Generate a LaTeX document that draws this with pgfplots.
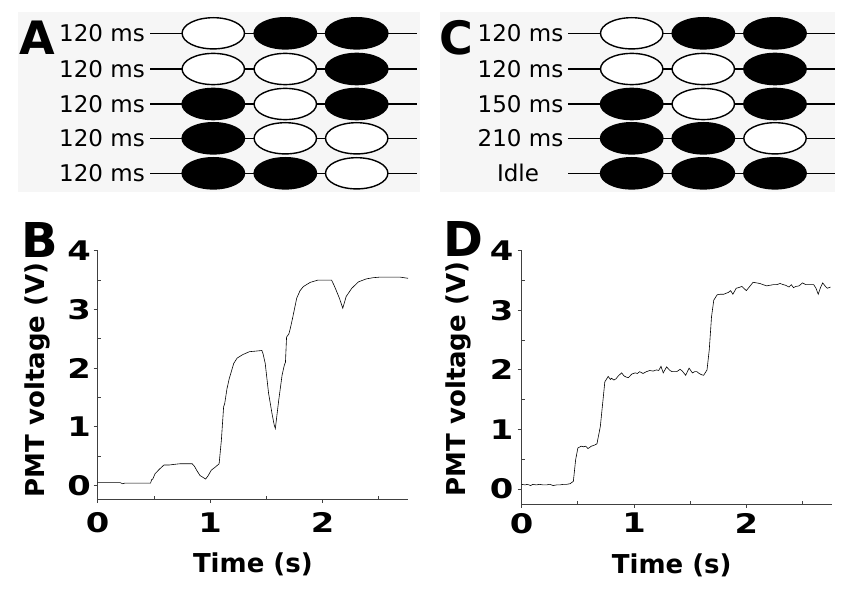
\documentclass[border=0pt]{standalone}
\usepackage{fontspec}
\setmainfont{DejaVu Sans}
\usepackage{pgfplots}
\pgfplotsset{compat=1.18}
\definecolor{panelbg}{RGB}{246,246,246}

\tikzset{
  rowlab/.style={anchor=base east, inner sep=0pt, font=\fontsize{23}{23}\selectfont},
  panlab/.style={anchor=base west, inner sep=0pt, font=\bfseries\fontsize{46}{46}\selectfont}
}
\pgfplotsset{
  schem/.style={scale only axis, anchor=south west, y dir=reverse,
    ymin=12, ymax=192, height=180pt,
    axis line style={draw=none}, xtick=\empty, ytick=\empty,
    axis background/.style={fill=panelbg}, clip=false},
  wmark/.style={only marks, mark=*, mark size=15.6pt,
    mark options={xscale=2.0, draw=black, fill=white, line width=1.4pt}},
  bmark/.style={only marks, mark=*, mark size=15.6pt,
    mark options={xscale=2.0, draw=black, fill=black, line width=1.4pt}},
  trace/.style={scale only axis, anchor=south west,
    xmin=0, xmax=2.76, ymax=4,
    axis lines=left, axis line style={black!75, line width=0.8pt, -},
    xtick={0,1,2}, ytick={0,1,2,3,4},
    minor xtick={0.5,1.5,2.5}, minor ytick={0.5,1.5,2.5,3.5},
    tick align=outside, major tick length=4pt, minor tick length=3pt,
    tick style={black!75, line width=0.8pt},
    minor x tick style={yshift=3pt}, minor y tick style={xshift=3pt},
    /pgf/number format/assume math mode=true,
    tick label style={font=\bfseries\fontsize{27}{27}\selectfont, inner sep=0pt, xscale=1.25},
    xlabel={Time (s)}, ylabel={PMT voltage (V)},
    label style={font=\bfseries\fontsize{26}{26}\selectfont, inner sep=0pt},
    clip=false}
}

\begin{document}
\begin{tikzpicture}
\path[use as bounding box] (0pt,0pt) rectangle (860pt,600pt);

% ---------- Panel A ----------
\begin{axis}[schem, at={(18pt,408pt)}, width=402pt, xmin=18, xmax=420]
\pgfplotsinvokeforeach{33.3,69,104,138.3,173.3}{
  \addplot[black, line width=1.5pt, forget plot] coordinates {(150,#1) (417,#1)};}
\addplot[wmark] coordinates {(213.3,33.3) (213.3,69) (285.3,69) (285.3,104) (285.3,138.3) (356.7,138.3) (356.7,173.3)};
\addplot[bmark] coordinates {(285.3,33.3) (356.7,33.3) (356.7,69) (213.3,104) (356.7,104) (213.3,138.3) (213.3,173.3) (285.3,173.3)};
\node[rowlab] at (axis cs:145,41.7) {120 ms};
\node[rowlab] at (axis cs:145,77.4) {120 ms};
\node[rowlab] at (axis cs:145,112.4) {120 ms};
\node[rowlab] at (axis cs:145,146.7) {120 ms};
\node[rowlab] at (axis cs:145,181.7) {120 ms};
\node[panlab] at (axis cs:19.5,55) {A};
\end{axis}

% ---------- Panel C ----------
\begin{axis}[schem, at={(440pt,408pt)}, width=395pt, xmin=440, xmax=835]
\pgfplotsinvokeforeach{33.3,69,104,138.3,173.3}{
  \addplot[black, line width=1.5pt, forget plot] coordinates {(568.3,#1) (835,#1)};}
\addplot[wmark] coordinates {(631.7,33.3) (631.7,69) (703.3,69) (703.3,104) (775,138.3)};
\addplot[bmark] coordinates {(703.3,33.3) (775,33.3) (775,69) (631.7,104) (775,104) (631.7,138.3) (703.3,138.3) (631.7,173.3) (703.3,173.3) (775,173.3)};
\node[rowlab] at (axis cs:563.5,41.7) {120 ms};
\node[rowlab] at (axis cs:563.5,77.4) {120 ms};
\node[rowlab] at (axis cs:563.5,112.4) {150 ms};
\node[rowlab] at (axis cs:563.5,146.7) {210 ms};
\node[rowlab, anchor=base] at (axis cs:518,181.7) {Idle};
\node[panlab] at (axis cs:439.5,55) {C};
\end{axis}

% ---------- Panel B ----------
\begin{axis}[trace, at={(97.7pt,101pt)}, width=310.3pt, height=248.3pt, ymin=-0.23,
  xticklabel shift=9.2pt, yticklabel shift=2.7pt,
  xlabel style={at={(axis description cs:0.5,-0.298)}, anchor=base},
  ylabel style={at={(axis description cs:-0.194,0.479)}, anchor=center}]
\addplot[black, line width=0.6pt] coordinates {
(0,0.05) (0.10,0.05) (0.20,0.05) (0.22,0.03) (0.24,0.04) (0.35,0.04) (0.47,0.04) (0.48,0.10) (0.49,0.11) (0.51,0.20) (0.55,0.28) (0.59,0.35) (0.64,0.35) (0.68,0.36) (0.73,0.37) (0.84,0.37) (0.86,0.33) (0.88,0.26) (0.91,0.17) (0.96,0.11) (0.98,0.16) (1.01,0.26) (1.05,0.32) (1.08,0.37) (1.10,0.77) (1.12,1.34) (1.13,1.40) (1.15,1.65) (1.17,1.82) (1.19,1.95) (1.21,2.08) (1.24,2.17) (1.29,2.23) (1.35,2.28) (1.41,2.29) (1.46,2.30) (1.47,2.25) (1.49,2.08) (1.52,1.57) (1.55,1.23) (1.57,1.03) (1.58,0.97) (1.61,1.45) (1.64,1.88) (1.66,2.05) (1.67,2.10) (1.68,2.53) (1.70,2.58) (1.71,2.65) (1.73,2.82) (1.77,3.19) (1.80,3.32) (1.83,3.39) (1.89,3.46) (1.96,3.50) (2.08,3.50) (2.10,3.42) (2.12,3.33) (2.15,3.19) (2.18,3.02) (2.21,3.22) (2.26,3.36) (2.32,3.47) (2.39,3.52) (2.45,3.54) (2.51,3.55) (2.69,3.55) (2.76,3.53)};
\end{axis}

% ---------- Panel D ----------
\begin{axis}[trace, at={(521.7pt,96pt)}, width=310pt, height=253.3pt, ymin=-0.25,
  xticklabel shift=4.8pt, yticklabel shift=4pt,
  xlabel style={at={(axis description cs:0.484,-0.276)}, anchor=base},
  ylabel style={at={(axis description cs:-0.204,0.493)}, anchor=center}]
\addplot[black, line width=0.6pt] coordinates {
(0,0.08) (0.03,0.07) (0.05,0.08) (0.08,0.06) (0.10,0.08) (0.13,0.07) (0.16,0.08) (0.19,0.07) (0.22,0.07) (0.25,0.08) (0.28,0.06) (0.31,0.07) (0.34,0.07) (0.37,0.08) (0.40,0.08) (0.43,0.09) (0.46,0.13) (0.48,0.49) (0.50,0.69) (0.53,0.72) (0.55,0.71) (0.57,0.72) (0.59,0.68) (0.62,0.72) (0.65,0.74) (0.67,0.76) (0.70,1.05) (0.73,1.61) (0.74,1.80) (0.77,1.89) (0.79,1.84) (0.80,1.86) (0.82,1.83) (0.84,1.85) (0.86,1.90) (0.89,1.95) (0.91,1.90) (0.93,1.88) (0.95,1.87) (0.98,1.93) (1.01,1.95) (1.03,1.94) (1.05,1.97) (1.08,1.94) (1.11,1.97) (1.14,1.99) (1.17,1.98) (1.20,2.00) (1.22,1.99) (1.24,2.06) (1.26,1.95) (1.29,2.05) (1.32,1.99) (1.34,1.97) (1.38,1.97) (1.41,2.01) (1.43,1.98) (1.46,1.91) (1.49,2.03) (1.52,1.95) (1.54,1.97) (1.56,1.97) (1.58,1.94) (1.60,1.92) (1.62,1.91) (1.65,2.00) (1.67,2.34) (1.69,2.89) (1.71,3.17) (1.74,3.26) (1.77,3.27) (1.80,3.27) (1.84,3.30) (1.86,3.33) (1.88,3.27) (1.91,3.37) (1.93,3.38) (1.96,3.40) (2.00,3.33) (2.03,3.40) (2.06,3.47) (2.09,3.46) (2.12,3.45) (2.15,3.43) (2.18,3.41) (2.21,3.42) (2.24,3.43) (2.27,3.43) (2.30,3.45) (2.33,3.43) (2.35,3.42) (2.38,3.39) (2.40,3.43) (2.42,3.38) (2.44,3.40) (2.47,3.41) (2.50,3.46) (2.53,3.43) (2.56,3.43) (2.60,3.43) (2.62,3.37) (2.64,3.27) (2.66,3.38) (2.68,3.46) (2.70,3.41) (2.72,3.37) (2.75,3.39)};
\end{axis}

\node[panlab, font=\bfseries\fontsize{48}{48}\selectfont] at (21pt,342pt) {B};
\node[panlab, font=\bfseries\fontsize{48}{48}\selectfont] at (443pt,343pt) {D};
\end{tikzpicture}
\end{document}
